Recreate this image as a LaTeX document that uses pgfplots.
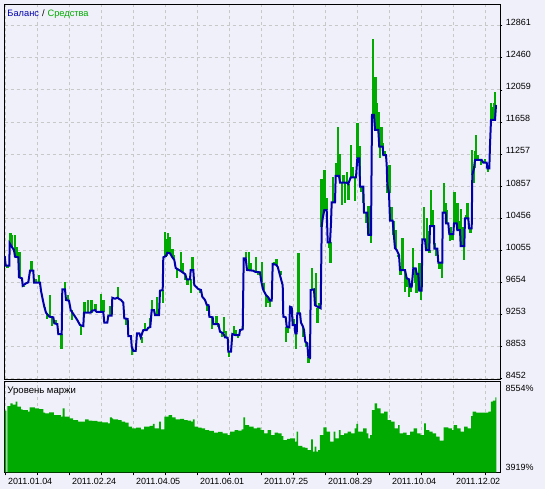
\documentclass[border=0pt]{standalone}
\usepackage{pgfplots}
\pgfplotsset{compat=1.18}
\usepackage{fontspec}
\setmainfont{Liberation Sans}
\definecolor{bgc}{RGB}{240,240,250}
\definecolor{grn}{RGB}{0,170,0}
\definecolor{blu}{RGB}{0,0,170}
\definecolor{grd}{RGB}{200,200,200}
\pgfplotsset{
  mtgrid/.style={major grid style={grd, dash pattern=on 3bp off 3bp, line width=0.8bp}},
  every tick label/.append style={font=\fontsize{9}{10}\selectfont},
  /pgf/number format/assume math mode=true
}
\begin{document}
\begin{tikzpicture}[font=\fontsize{9}{10}\selectfont]
\fill[bgc] (0,0) rectangle (545bp,-489bp);
\path[use as bounding box] (0,0) rectangle (545bp,-489bp);
% ---------------- top panel: balance / equity ----------------
\begin{axis}[at={(4.5bp,-4.3bp)}, anchor=north west, scale only axis,
  width=495.8bp, height=375bp,
  xmin=4.5, xmax=500.3, ymin=8440, ymax=13130,
  scaled ticks=false,
  axis background/.style={fill=bgc},
  axis line style={black, line width=0.8bp},
  xtick={5.3,37.3,...,485.3}, xticklabel=\empty, xtick style={draw=none},
  ytick={8452,8852.9,9253.8,9654.7,10055.6,10456.5,10857.4,11258.3,11659.2,12060.1,12461,12861.9},
  yticklabels={8452,8853,9253,9654,10055,10456,10857,11257,11658,12059,12460,12861},
  ytick pos=right, yticklabel pos=right, ytick align=outside,
  major tick length=2bp, ytick style={black, line width=0.6bp},
  yticklabel style={anchor=base west, xshift=0bp},
  grid=major, mtgrid, unbounded coords=jump]
% equity excursions (green)
\addplot[grn, line width=2.4bp] coordinates {
(7.5,9861) (7.5,9828) (7.5,nan)
(10.5,10141) (10.5,10266) (10.5,nan)
(11.7,10098) (11.7,10250) (11.7,nan)
(15,9973) (15,10245) (15,nan)
(16.5,9966) (16.5,10100) (16.5,nan)
(19.5,9716) (19.5,10036) (19.5,nan)
(24,9610) (24,9590) (24,nan)
(31.5,9798) (31.5,9923) (31.5,nan)
(36,9648) (36,9700) (36,nan)
(38.7,9648) (38.7,9744) (38.7,nan)
(45,9348) (45,9306) (45,nan)
(47,9273) (47,9200) (47,nan)
(50,9223) (50,9494) (50,nan)
(52,9215) (52,9106) (52,nan)
(56,9131) (56,9180) (56,nan)
(61.5,9006) (61.5,8815) (61.5,nan)
(65,9565) (65,9661) (65,nan)
(68,9423) (68,9500) (68,nan)
(72,9306) (72,9181) (72,nan)
(80.7,9119) (80.7,8994) (80.7,nan)
(84.5,9273) (84.5,9410) (84.5,nan)
(88,9273) (88,9432) (88,nan)
(91.5,9273) (91.5,9432) (91.5,nan)
(95.5,9306) (95.5,9380) (95.5,nan)
(100.7,9282) (100.7,9503) (100.7,nan)
(103.5,9282) (103.5,9432) (103.5,nan)
(110.5,9235) (110.5,9357) (110.5,nan)
(117.7,9460) (117.7,9598) (117.7,nan)
(126,9194) (126,9120) (126,nan)
(132,8847) (132,8744) (132,nan)
(141.7,8965) (141.7,8897) (141.7,nan)
(145,9056) (145,9150) (145,nan)
(150,9094) (150,9210) (150,nan)
(152,9306) (152,9432) (152,nan)
(157,9244) (157,9473) (157,nan)
(163,9557) (163,9394) (163,nan)
(165,9982) (165,10278) (165,nan)
(166.7,9982) (166.7,10200) (166.7,nan)
(168,10023) (168,10266) (168,nan)
(170,10016) (170,10223) (170,nan)
(172.5,9973) (172.5,10069) (172.5,nan)
(174.2,9932) (174.2,10000) (174.2,nan)
(177,9832) (177,9703) (177,nan)
(181,9786) (181,10036) (181,nan)
(183,9786) (183,9900) (183,nan)
(185,9753) (185,9682) (185,nan)
(187.5,9691) (187.5,9620) (187.5,nan)
(191,9691) (191,9515) (191,nan)
(192.5,9807) (192.5,9966) (192.5,nan)
(200,9557) (200,9520) (200,nan)
(207,9373) (207,9300) (207,nan)
(212,9215) (212,9065) (212,nan)
(216.5,9131) (216.5,9231) (216.5,nan)
(218.5,9131) (218.5,9090) (218.5,nan)
(222,9035) (222,8965) (222,nan)
(224,9015) (224,9223) (224,nan)
(226,8965) (226,9050) (226,nan)
(229,8785) (229,8722) (229,nan)
(234,8994) (234,9110) (234,nan)
(236,8994) (236,9060) (236,nan)
(238,8994) (238,8956) (238,nan)
(243,9065) (243,9181) (243,nan)
(246,9953) (246,10028) (246,nan)
(249,9807) (249,10028) (249,nan)
(251,9798) (251,9900) (251,nan)
(256,9786) (256,9966) (256,nan)
(258.5,9778) (258.5,9740) (258.5,nan)
(262,9661) (262,9911) (262,nan)
(264,9557) (264,9650) (264,nan)
(266,9494) (266,9348) (266,nan)
(268,9465) (268,9400) (268,nan)
(270,9423) (270,9348) (270,nan)
(274,9882) (274,9911) (274,nan)
(276.5,9873) (276.5,9940) (276.5,nan)
(280.5,9740) (280.5,9800) (280.5,nan)
(286,9098) (286,8910) (286,nan)
(288,9090) (288,9020) (288,nan)
(293.5,9119) (293.5,9200) (293.5,nan)
(296,9015) (296,8815) (296,nan)
(298.3,9265) (298.3,10016) (298.3,nan)
(302.7,9098) (302.7,8973) (302.7,nan)
(306,8910) (306,8850) (306,nan)
(308.3,8722) (308.3,8640) (308.3,nan)
(312,9557) (312,9828) (312,nan)
(316,9365) (316,9766) (316,nan)
(317.5,9328) (317.5,9140) (317.5,nan)
(319,9328) (319,9400) (319,nan)
(321.5,10348) (321.5,10941) (321.5,nan)
(323,10453) (323,10900) (323,nan)
(324.5,10557) (324.5,11058) (324.5,nan)
(326.7,10557) (326.7,10704) (326.7,nan)
(329,10153) (329,10078) (329,nan)
(330.5,10153) (330.5,9898) (330.5,nan)
(333,10654) (333,10974) (333,nan)
(336.5,10983) (336.5,11150) (336.5,nan)
(338,10983) (338,11592) (338,nan)
(340,10899) (340,11258) (340,nan)
(342,10899) (342,10620) (342,nan)
(343.5,10899) (343.5,11000) (343.5,nan)
(345,10899) (345,10641) (345,nan)
(347,10899) (347,11036) (347,nan)
(348.3,10883) (348.3,10682) (348.3,nan)
(351,10966) (351,11370) (351,nan)
(353,10966) (353,11100) (353,nan)
(355,10966) (355,10674) (355,nan)
(357.5,11204) (357.5,11642) (357.5,nan)
(360,10849) (360,11362) (360,nan)
(361,10849) (361,10786) (361,nan)
(363,10849) (363,10650) (363,nan)
(366,10524) (366,10400) (366,nan)
(368.5,10245) (368.5,10607) (368.5,nan)
(371,10245) (371,10148) (371,nan)
(373,11746) (373,12692) (373,nan)
(375.5,11558) (375.5,12217) (375.5,nan)
(377,11558) (377,11900) (377,nan)
(379,11349) (379,11787) (379,nan)
(380,11349) (380,11204) (380,nan)
(381.5,11349) (381.5,11600) (381.5,nan)
(383,11245) (383,11392) (383,nan)
(385,11245) (385,11300) (385,nan)
(387.3,10883) (387.3,10766) (387.3,nan)
(389.5,10766) (389.5,11120) (389.5,nan)
(391.5,10423) (391.5,10600) (391.5,nan)
(393.5,10423) (393.5,10250) (393.5,nan)
(396,10057) (396,10307) (396,nan)
(398,9994) (398,9973) (398,nan)
(400.5,9807) (400.5,9750) (400.5,nan)
(402.5,9807) (402.5,10203) (402.5,nan)
(405,9807) (405,9535) (405,nan)
(407.5,9703) (407.5,9600) (407.5,nan)
(409,9691) (409,9473) (409,nan)
(411,9598) (411,9530) (411,nan)
(413,9828) (413,10078) (413,nan)
(414.7,9828) (414.7,9650) (414.7,nan)
(416.5,9757) (416.5,9515) (416.5,nan)
(419.5,9548) (419.5,9891) (419.5,nan)
(421,9548) (421,9432) (421,nan)
(423.7,10191) (423.7,10599) (423.7,nan)
(426.7,10057) (426.7,10453) (426.7,nan)
(428,10057) (428,10300) (428,nan)
(429.3,10057) (429.3,10016) (429.3,nan)
(431,10357) (431,10808) (431,nan)
(433,10357) (433,10557) (433,nan)
(435,10073) (435,10150) (435,nan)
(436.5,10073) (436.5,9982) (436.5,nan)
(439.5,9898) (439.5,9820) (439.5,nan)
(441,9898) (441,9869) (441,nan)
(441.8,9898) (441.8,9703) (441.8,nan)
(444,10524) (444,10899) (444,nan)
(445.7,10524) (445.7,10650) (445.7,nan)
(447,10391) (447,10557) (447,nan)
(449.7,10257) (449.7,10173) (449.7,nan)
(451,10257) (451,10350) (451,nan)
(452.5,10257) (452.5,10182) (452.5,nan)
(454.5,10391) (454.5,10779) (454.5,nan)
(456,10391) (456,10500) (456,nan)
(457.5,10307) (457.5,10641) (457.5,nan)
(459,10307) (459,10420) (459,nan)
(461,10107) (461,10566) (461,nan)
(462.5,10107) (462.5,10350) (462.5,nan)
(464,10107) (464,9932) (464,nan)
(466,10453) (466,10500) (466,nan)
(467.5,10453) (467.5,10649) (467.5,nan)
(469,10328) (469,10400) (469,nan)
(470.5,10328) (470.5,10273) (470.5,nan)
(472,10995) (472,11308) (472,nan)
(473.3,11079) (473.3,10891) (473.3,nan)
(474.7,11079) (474.7,11300) (474.7,nan)
(476,11183) (476,11495) (476,nan)
(478,11183) (478,11250) (478,nan)
(481,11183) (481,11120) (481,nan)
(485,11149) (485,11200) (485,nan)
(488,11079) (488,11036) (488,nan)
(491,11683) (491,11892) (491,nan)
(492,11683) (492,11800) (492,nan)
(493,11683) (493,11849) (493,nan)
(494,11683) (494,11900) (494,nan)
(495,11683) (495,12037)
};
% balance (blue)
\addplot[blu, line width=2bp] coordinates {
(4.7,9982) (5.7,9861) (9.3,9861) (9.7,10141) (11.7,10098) (14,10057) (15,9973)
(18.3,9966) (19,9716) (22,9703) (22.7,9610) (26,9640) (28.3,9653) (30,9798)
(33.3,9798) (34,9648) (40,9648) (41,9548) (42.7,9440) (44.3,9348) (46,9273)
(49.3,9223) (53.3,9215) (54.3,9140) (57.3,9131) (58.3,9006) (61.7,9006)
(62.3,9565) (65,9565) (66,9432) (69,9423) (70.7,9306) (74,9244) (77.3,9181)
(80,9119) (83.3,9106) (84,9273) (90.7,9273) (92,9298) (95,9306) (96.7,9282)
(103.3,9282) (104.3,9148) (107.3,9148) (108.3,9235) (111.7,9235) (112.3,9460)
(115,9448) (117.3,9460) (119.3,9444) (121,9432) (123.3,9398) (124.3,9203)
(127.7,9194) (128.3,8981) (131,8981) (131.7,8847) (133.3,8797) (135.7,8797)
(137,9015) (139.3,9015) (140.7,8965) (143.3,9056) (146.7,9056) (148.3,9085)
(150.3,9094) (151.7,9306) (154,9306) (155,9244) (159,9244) (160,9548)
(162.7,9557) (163.3,9966) (166,9982) (167.3,10023) (170,10016) (172,9973)
(174.3,9932) (175.7,9832) (179,9807) (181.7,9786) (185.3,9753) (186.7,9691)
(190,9691) (190.7,9807) (193.3,9807) (194.3,9619) (196.7,9590) (198.3,9569)
(201,9557) (202.3,9473) (205,9432) (206.7,9373) (208.7,9365) (209.3,9223)
(212.7,9215) (213.3,9131) (218.3,9131) (220,9035) (223.3,9015) (225,8965)
(227.7,8960) (228.3,8785) (231,8785) (232.3,9006) (235,8994) (239.3,8994)
(240,9056) (242.7,9065) (243.7,9953) (245.7,9953) (247,9807) (253.3,9798)
(254.7,9786) (260,9778) (261.3,9661) (263.3,9557) (266,9494) (268.3,9465)
(270,9423) (271.7,9423) (272.7,9882) (276,9873) (277.7,9848) (280,9740)
(282.7,9615) (283.3,9223) (285.7,9215) (286.7,9098) (289.3,9090) (290,9348)
(291.7,9340) (292.7,9119) (294.7,9119) (295.3,9015) (296.7,9015) (297.3,9265)
(300,9265) (301,9148) (303,9098) (304,9056) (305.3,8910) (307.3,8890)
(308.3,8722) (310,8710) (310.7,9557) (314,9565) (315,9365) (320.7,9328)
(321.7,10348) (322.7,10453) (324.3,10557) (326.7,10557) (327.7,10153)
(330,10153) (331,10395) (331.7,10654) (335,10654) (335.7,10983) (339,10983)
(340,10899) (346.7,10899) (348.3,10883) (350.7,10966) (356,10966)
(357.3,11204) (359.3,11204) (360,10849) (363.3,10849) (364,10524)
(367.3,10524) (368.3,10245) (371,10245) (372,11746) (374,11746) (375,11558)
(378.3,11558) (379.3,11349) (382.7,11349) (383.3,11245) (386,11245)
(386.7,11120) (387.3,10883) (389,10766) (390,10423) (392.7,10423)
(394,10223) (395,10078) (396.7,10057) (399,9994) (400,9807) (405,9807)
(406.7,9703) (409,9691) (410,9598) (411.7,9598) (413.3,9828) (415.7,9828)
(416.7,9757) (418.3,9757) (419.3,9548) (421.7,9548) (422.3,10191) (425,10191)
(426,10057) (429.3,10057) (430,10357) (434,10357) (434.3,10073) (437.3,10073)
(438.3,9898) (442.3,9898) (442.7,10524) (445.7,10524) (446,10391) (448.3,10391)
(449.3,10257) (453.3,10257) (454,10391) (456.7,10391) (457.3,10307) (460,10307)
(460.7,10107) (464.3,10107) (465,10453) (468.3,10453) (469,10328) (471.7,10328)
(472.3,10995) (474,11079) (475,11183) (481.7,11183) (483.3,11149) (486.7,11149)
(487.3,11079) (489.3,11079) (490,11370) (491,11683) (495,11683) (496,11871)
};
\end{axis}
% ---------------- bottom panel: margin level ----------------
\begin{axis}[at={(4.5bp,-381.5bp)}, anchor=north west, scale only axis,
  width=495.8bp, height=90.8bp,
  xmin=4.5, xmax=500.3, ymin=3919, ymax=8554,
  scaled ticks=false,
  axis background/.style={fill=bgc},
  axis line style={black, line width=0.8bp},
  ytick=\empty,
  xtick={5.3,37.3,...,485.3},
  xticklabels={2011.01.04,,2011.02.24,,2011.04.05,,2011.06.01,,2011.07.25,,2011.08.29,,2011.10.04,,2011.12.02,},
  xtick pos=bottom, xtick align=outside, major tick length=3bp,
  xtick style={black, line width=0.6bp},
  xticklabel style={anchor=north west, xshift=-0.8bp, yshift=1bp},
  xmajorgrids, mtgrid]
\addplot[fill=grn, draw=none, const plot] coordinates {(4.9,7065) (6.3,7065)} \closedcycle;
\addplot[fill=grn, draw=none, const plot] coordinates {
(7.3,7303) (10.4,7440) (12.5,7380) (15.6,7525) (17.4,7270) (20.9,7133) (22.6,7099)
(27.8,7014) (29.5,7236) (34.8,7184) (39,7150) (43.4,6963) (45.2,6929) (49,6980)
(53.9,6844) (60.8,6759) (62.6,7184) (64.7,6759) (69.5,6674) (73,6589)
(78.2,6504) (85.2,6623) (88.6,6555) (92.1,6538) (97.3,6504) (102,6470)
(107.8,6419) (109.8,6725) (111.9,6674) (113,6623) (118.2,6589) (121.7,6504)
(125.1,6453) (128.6,6249) (132.1,6163) (136,6200) (140.8,6112) (144.2,6249)
(149.5,6283) (152.9,6385) (154.7,6163) (159.2,6504) (160.9,6112) (164.4,6759)
(168.6,6844) (172.1,6725) (175.5,6623) (180,6650) (184.2,6589) (187.7,6555)
(191.2,6504) (192.9,6623) (194.6,6249) (198,6200) (201.6,6163) (205.1,6078)
(209,6040) (213.8,5942) (218,5980) (222.5,5908) (227.7,5823) (230.1,5993)
(234.6,6078) (238,6050) (241.6,6112) (243.3,6725) (245,6333) (249,6250)
(253.7,6163) (257,6200) (260.7,6078) (264.2,5908) (267.6,6078) (271.1,5823)
(274.6,5942) (278.1,5908) (281.5,5772) (283.3,5568) (287,5620) (290.2,5653)
(294.8,5483) (296.5,5993) (298.2,5262) (302.4,5194) (305,5160) (307.6,5057)
(311.1,5602) (312.8,4972) (314.6,5228) (316.3,4972) (318,5057) (319.8,5823)
(323.3,6214) (326.7,5993) (330.2,5483) (333.7,5993) (335.4,5653) (338.9,6078)
(340.6,5823) (344,5900) (347.6,5993) (351.1,5908) (354.5,6163) (356.3,6385)
(358,5993) (363.2,6163) (366.7,5908) (368.4,5653) (370.2,5823) (371.9,7099)
(374.7,7440) (377.1,7184) (380.6,6929) (384.1,7014) (387.5,6589) (391,6504)
(394.5,6163) (398,6333) (399.7,5908) (403,5950) (406.7,5823) (410.2,5993)
(413.6,6163) (417.1,5908) (420.6,5823) (424,6419) (425.8,6078) (429.3,5993)
(432.7,5908) (436.2,5738) (439.7,5534) (443.5,6214) (448.4,6163) (451.9,6078)
(453.6,6333) (457.1,6163) (460.5,5993) (464,6249) (467.5,6163) (471,6793)
(472.7,7014) (476.2,6963) (488.4,7014) (490.8,7525) (492.9,7576) (495.3,7746)
(496.4,7746)} \closedcycle;
\end{axis}
% ---------------- texts ----------------
\node[anchor=base west, inner sep=0pt, text=blu, font=\fontsize{9.3}{10}\selectfont] (bal) at (7.3bp,-16.3bp) {Баланс};
\node[anchor=base west, inner sep=0pt, font=\fontsize{9.3}{10}\selectfont] (sl) at ([xshift=2.6bp]bal.base east) {/};
\node[anchor=base west, inner sep=0pt, text=grn, font=\fontsize{9.3}{10}\selectfont] at ([xshift=2.6bp]sl.base east) {Средства};
\node[anchor=base west, inner sep=0pt, font=\fontsize{9.6}{10}\selectfont] at (7.3bp,-393.5bp) {Уровень маржи};
\node[anchor=base west, inner sep=0pt] at (505.5bp,-391bp) {8554\%};
\node[anchor=base west, inner sep=0pt] at (505.5bp,-470.7bp) {3919\%};
\end{tikzpicture}
\end{document}
